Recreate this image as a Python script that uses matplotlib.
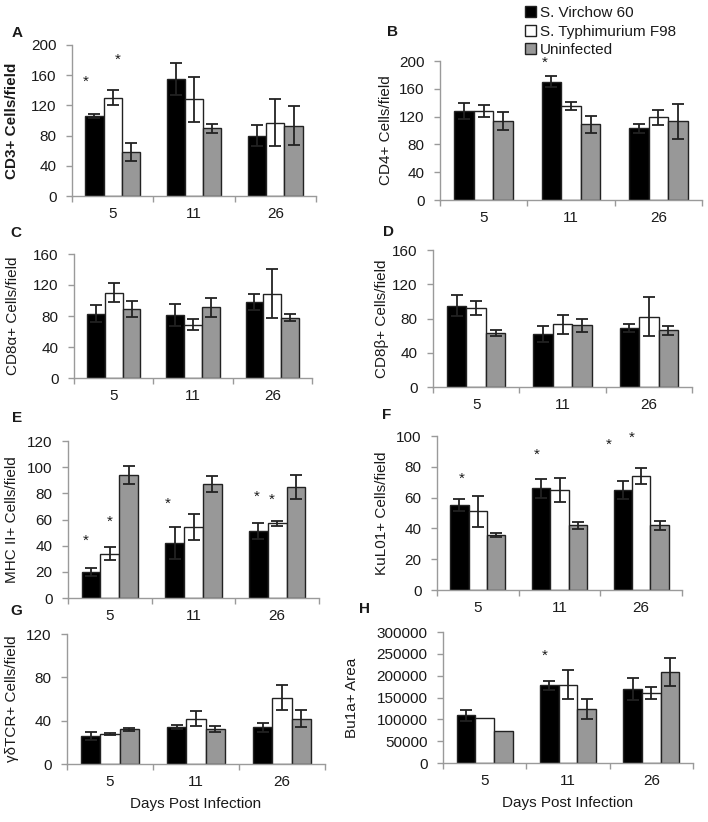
import matplotlib
matplotlib.use('Agg')
import matplotlib.pyplot as plt
from matplotlib.patches import Patch
import numpy as np

plt.rcParams['font.family'] = ['Liberation Sans', 'DejaVu Sans']
plt.rcParams['font.size'] = 11

# ---------------- data ----------------
days = ['5', '11', '26']
series_names = ['S. Virchow 60', 'S. Typhimurium F98', 'Uninfected']
series_colors = ['#000000', '#ffffff', '#989898']

# each: rows = series (Virchow, Typhimurium, Uninfected), cols = days
cd3_mean = [[106, 155, 80], [130, 128, 97], [58, 90, 93]]
cd3_err = [[3, 21, 14], [10, 30, 31], [12, 6, 26]]

cd4_mean = [[128, 170, 103], [128, 135, 119], [114, 109, 113]]
cd4_err = [[11, 8, 7], [8, 6, 11], [13, 12, 25]]

cd8a_mean = [[83, 81, 98], [110, 69, 109], [89, 91, 78]]
cd8a_err = [[11, 14, 10], [12, 7, 31], [10, 12, 5]]

cd8b_mean = [[95, 62, 69], [92, 73, 82], [63, 72, 66]]
cd8b_err = [[12, 9, 5], [8, 11, 23], [4, 8, 5]]

mhc_mean = [[20, 42, 51], [34, 54, 57], [94, 87, 85]]
mhc_err = [[3, 12, 6], [5, 10, 2], [7, 6, 9]]

kul_mean = [[55, 66, 65], [51, 65, 74], [36, 42, 42]]
kul_err = [[4, 6, 6], [10, 8, 5], [1.3, 2.4, 3]]

gd_mean = [[26, 34, 34], [27.5, 42, 61], [32, 32, 42]]
gd_err = [[4, 1.6, 4], [1, 7, 11.5], [1.2, 2.8, 7.4]]

bu_mean = [[109000, 178000, 170000], [103000, 179000, 160000], [74000, 123500, 209000]]
bu_err = [[13000, 10000, 25000], [0, 33500, 14500], [0, 22600, 31800]]

# significance stars: (day index, offset within group, y value)
cd3_stars = [(0, -0.33, 151), (0, 0.065, 181)]
cd4_stars = [(1, -0.30, 197)]
mhc_stars = [(0, -0.29, 44), (0, 0.0, 58), (1, -0.31, 72), (2, -0.25, 77), (2, -0.06, 75)]
kul_stars = [(0, -0.20, 72), (1, -0.28, 88), (2, -0.40, 94), (2, -0.12, 99)]
bu_stars = [(1, -0.28, 246000)]

# ---------------- layout ----------------
W, H = 708, 822
fig = plt.figure(figsize=(W / 100, H / 100), dpi=100)

def px_axes(l, t, r, b):
    return fig.add_axes([l / W, 1 - b / H, (r - l) / W, (b - t) / H])

panels = [
    # letter, rect(l,t,r,b), ylabel, mean, err, ymax, ystep, stars, bold, label_x, letter_xy, xlabel
    ('A', (72, 45, 316, 196), 'CD3+ Cells/field', cd3_mean, cd3_err, 200, 40, cd3_stars, True, 12, (12, 33), False),
    ('B', (440, 61, 702, 200), 'CD4+ Cells/field', cd4_mean, cd4_err, 200, 40, cd4_stars, False, 386, (387, 32), False),
    ('C', (74, 254, 312, 378), 'CD8\u03b1+ Cells/field', cd8a_mean, cd8a_err, 160, 40, [], False, 13, (10, 233), False),
    ('D', (433, 250, 692, 387), 'CD8\u03b2+ Cells/field', cd8b_mean, cd8b_err, 160, 40, [], False, 382, (383, 232), False),
    ('E', (68, 441, 319, 598), 'MHC II+ Cells/field', mhc_mean, mhc_err, 120, 20, mhc_stars, False, 12, (12, 418), False),
    ('F', (437, 436, 682, 590), 'KuL01+ Cells/field', kul_mean, kul_err, 100, 20, kul_stars, False, 382, (382, 415), False),
    ('G', (67, 634, 325, 764), '\u03b3\u03b4TCR+ Cells/field', gd_mean, gd_err, 120, 40, [], False, 12, (10, 611), True),
    ('H', (443, 632, 693, 763), 'Bu1a+ Area', bu_mean, bu_err, 300000, 50000, bu_stars, False, 352, (359, 609), True),
]

text_color = '#1a1a1a'
spine_color = '#9a9a9a'
bw = 0.225
x = np.arange(len(days))

for (letter, rect, ylabel, mean, err, ymax, ystep, stars, bold, lab_x, lxy, show_xlabel) in panels:
    ax = px_axes(*rect)
    for i in range(3):
        xs = x + (i - 1) * bw
        ax.bar(xs, mean[i], width=bw, color=series_colors[i],
               edgecolor='#222222', linewidth=1.0, zorder=2)
        e = np.asarray(err[i], dtype=float)
        m = np.asarray(mean[i], dtype=float)
        keep = e > 0
        if keep.any():
            ax.errorbar(xs[keep], m[keep], yerr=e[keep], fmt='none',
                        ecolor='#222222', elinewidth=1.3, capsize=4, capthick=1.3, zorder=3)
    for (d, off, yv) in stars:
        ax.text(d + off, yv, '*', ha='center', va='center', fontsize=11, color=text_color)
    ax.set_xlim(-0.5, 2.5)
    ax.set_ylim(0, ymax)
    ax.set_yticks(np.arange(0, ymax + ystep / 2, ystep))
    ax.ticklabel_format(axis='y', style='plain', useOffset=False)
    ax.set_xticks([-0.5, 0.5, 1.5, 2.5])
    ax.set_xticklabels([])
    ax.set_xticks(x, minor=True)
    ax.set_xticklabels(days, minor=True)
    ax.tick_params(axis='x', which='major', direction='out', length=4, color=spine_color, width=1)
    ax.tick_params(axis='x', which='minor', length=0, pad=8, labelsize=11, labelcolor=text_color)
    ax.tick_params(axis='y', direction='out', length=4, color=spine_color, width=1, pad=7,
                   labelsize=11, labelcolor=text_color)
    for s in ['top', 'right']:
        ax.spines[s].set_visible(False)
    for s in ['left', 'bottom']:
        ax.spines[s].set_color(spine_color)
        ax.spines[s].set_linewidth(1)
    ax.set_ylabel(ylabel, fontsize=11, color=text_color, fontweight='bold' if bold else 'normal')
    # label anchor is its right edge (rotated text bottom); shift by half the text height
    ax.yaxis.set_label_coords((lab_x + 7) / W, 1 - ((rect[1] + rect[3]) / 2) / H,
                              transform=fig.transFigure)
    if show_xlabel:
        ax.set_xlabel('Days Post Infection', fontsize=11, color=text_color, labelpad=6)
    fig.text(lxy[0] / W, 1 - lxy[1] / H, letter, fontsize=11, fontweight='bold',
             ha='left', va='center', color=text_color)
    if letter == 'B':
        handles = [Patch(facecolor=series_colors[i], edgecolor='#222222', linewidth=1.0)
                   for i in range(3)]
        fig.legend(handles, series_names, loc='upper left', bbox_to_anchor=(525 / W, 1 - 6 / H),
                   frameon=False, fontsize=11, handlelength=0.7, handleheight=0.7,
                   handletextpad=0.25, labelspacing=0.3, borderaxespad=0, borderpad=0,
                   labelcolor=text_color)

fig.savefig('out.png', dpi=100)
